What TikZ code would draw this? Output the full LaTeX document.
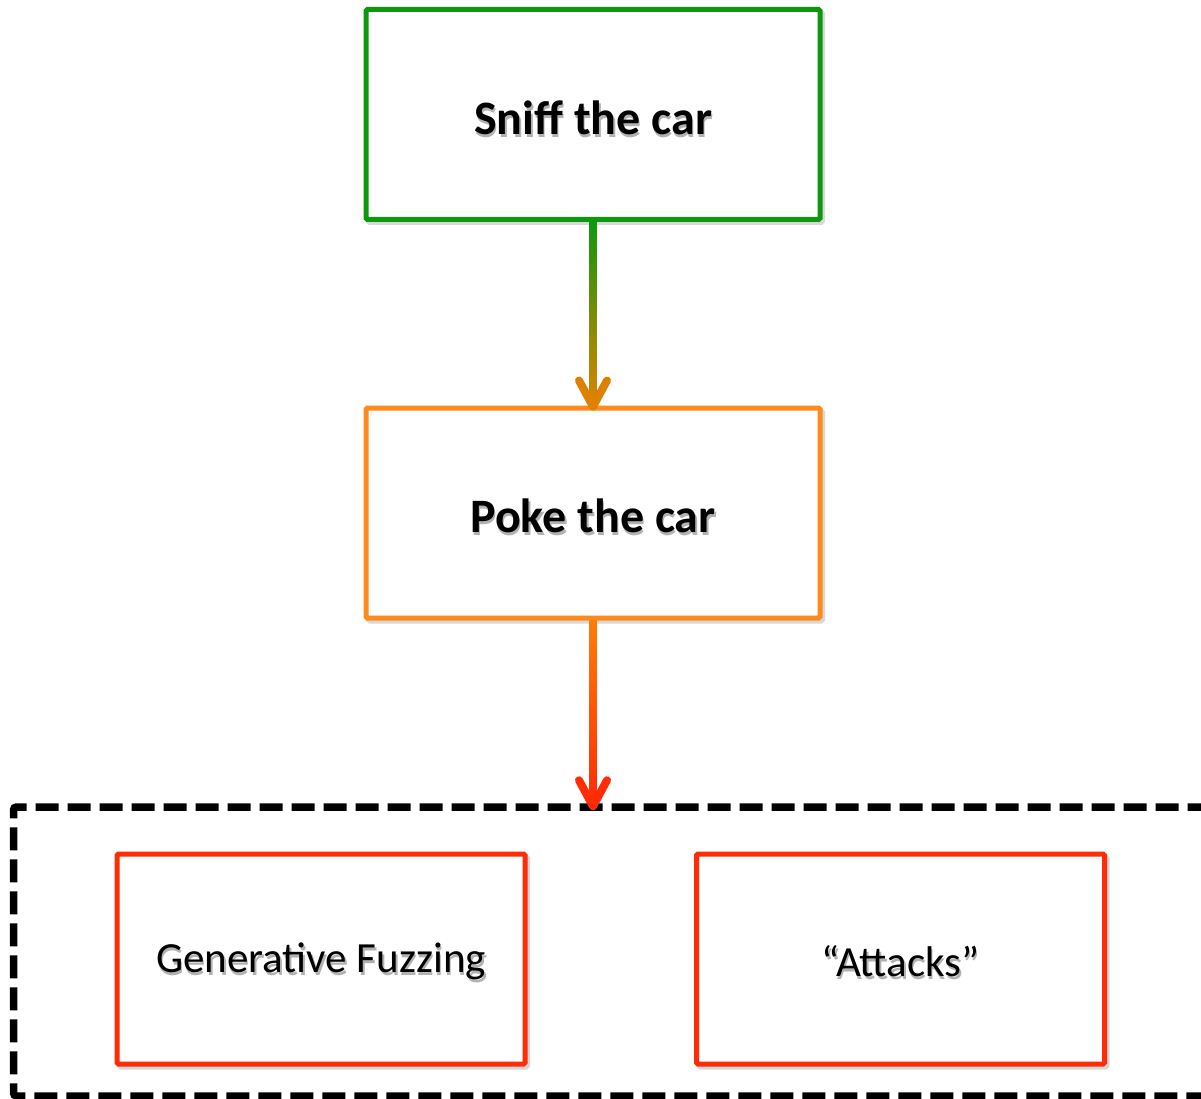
\documentclass[tikz,border=0pt]{standalone}
\usepackage{fontspec}
\setmainfont{Carlito}
\usetikzlibrary{calc}

\definecolor{stepgreen}{HTML}{0E980E}
\definecolor{steporange}{HTML}{FF8A1C}
\definecolor{arroworange}{HTML}{DC8200}
\definecolor{linkorange}{HTML}{FF7C08}
\definecolor{stepred}{HTML}{FF2C06}

% text with a faint drop shadow set behind it
\newcommand\shadowed[1]{%
  \makebox[0pt][l]{\hspace{1.5pt}\raisebox{-3pt}{\textcolor{black!30}{#1}}}%
  #1}

\tikzset{
  stepbox/.style={draw=#1, line width=5pt, rounded corners=1.5pt, fill=white,
                  inner sep=0pt, minimum width=454pt, minimum height=210pt},
  boxshade/.style={draw=black!60, draw opacity=0.25, line width=5pt,
                  rounded corners=1.5pt, inner sep=0pt,
                  minimum width=454pt, minimum height=210pt},
  smallbox/.style={minimum width=408pt},
  boldlabel/.style={font=\fontsize{48}{54}\selectfont\bfseries, inner sep=0pt},
  plainlabel/.style={font=\fontsize{43}{50}\selectfont, inner sep=0pt},
  groupbox/.style={draw=black, line width=7.5pt, dash pattern=on 23pt off 9pt,
                  rounded corners=3pt, inner sep=0pt,
                  minimum width=1200pt, minimum height=289pt},
  headline/.style={line width=8pt, line cap=round, line join=round},
}

\begin{document}
\begin{tikzpicture}[x=1pt,y=-1pt]
  \useasboundingbox (0,0) rectangle (1201,1099);
  \clip (0,0) rectangle (1201,1099);
  \fill[white] (0,0) rectangle (1201,1099);

  % soft shadows under the step boxes
  \node[boxshade] (sniffsh) at (595.5,117.5) {};
  \node[boxshade] (pokesh) at (595.5,516) {};
  \node[boxshade, smallbox] (fuzzsh) at (323.5,962) {};
  \node[boxshade, smallbox] (attacksh) at (903,962) {};

  % step boxes
  \node[stepbox=stepgreen] (sniff) at (593,114.5) {};
  \node[stepbox=steporange] (poke) at (593,513) {};
  \node[stepbox=stepred, smallbox] (fuzz) at (321,959) {};
  \node[stepbox=stepred, smallbox] (attack) at (900.5,959) {};

  % group frame around the two poking methods
  \node[groupbox] (group) at (613.5,951.5) {};

  % labels
  \node[boldlabel] (snifftxt) at ($(sniff)+(0,4.5)$) {\shadowed{Sniff the car}};
  \node[boldlabel] (poketxt) at ($(poke)+(0,4.5)$) {\shadowed{Poke the car}};
  \node[plainlabel] (fuzztxt) at ($(fuzz)+(0,4)$) {\shadowed{Generative Fuzzing}};
  \node[plainlabel] (attacktxt) at ($(attack)+(0,4)$) {\shadowed{“Attacks”}};

  % sniff -> poke: shaded shaft and open head
  \coordinate (tipa) at ($(poke.north)+(0,1)$);
  \shade[top color=stepgreen, bottom color=arroworange]
    ($(sniff.south)+(-3.5,0)$) rectangle ($(tipa)+(3.5,-6)$);
  \draw[headline, arroworange] ($(tipa)+(-14,-26)$) -- (tipa) -- ($(tipa)+(14,-26)$);

  % poke -> group: shaded shaft and open head
  \coordinate (tipb) at ($(group.north)+(-20.5,3)$);
  \shade[top color=linkorange, bottom color=stepred]
    ($(poke.south)+(-3.5,0)$) rectangle ($(tipb)+(3.5,-6)$);
  \draw[headline, stepred] ($(tipb)+(-14,-26)$) -- (tipb) -- ($(tipb)+(14,-26)$);
\end{tikzpicture}
\end{document}
